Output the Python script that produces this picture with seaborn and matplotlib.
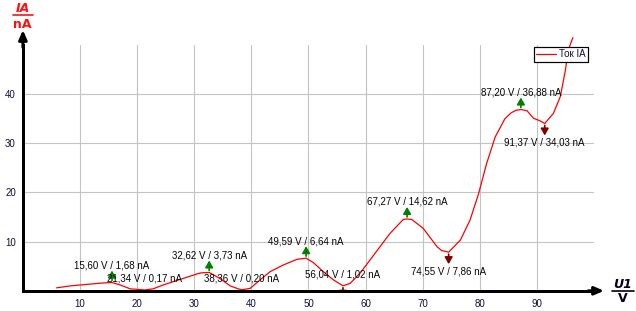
import numpy as np
import pandas as pd
import matplotlib
matplotlib.use("Agg")
import matplotlib.pyplot as plt
from matplotlib.patches import FancyArrowPatch
import seaborn as sns

# ---- data ----
voltage = [5.9, 8.3, 11.2, 14.1, 15.6, 17.0, 18.8, 21.34, 22.8, 24.6, 27.5, 30.4,
           31.2, 32.62, 34.5, 36.3, 37.7, 38.36, 39.8, 41.5, 43.3, 45.6, 48.0,
           49.59, 50.9, 52.6, 54.4, 56.04, 57.3, 59.05, 60.8, 62.55, 64.3, 66.6,
           67.27, 68.1, 70.1, 72.5, 73.3, 74.55, 76.6, 78.3, 79.8, 81.2, 82.7,
           84.4, 85.5, 86.3, 87.20, 88.3, 89.4, 90.5, 91.37, 92.9, 94.1, 95.0,
           95.5, 96.3]
current = [0.6, 1.0, 1.3, 1.6, 1.68, 1.2, 0.4, 0.17, 0.4, 1.2, 2.3, 3.4,
           3.65, 3.73, 2.5, 1.0, 0.4, 0.20, 0.5, 2.2, 3.9, 5.25, 6.4,
           6.64, 5.7, 3.9, 2.2, 1.02, 1.5, 3.6, 6.3, 9.0, 11.7, 14.5,
           14.62, 14.5, 12.7, 9.0, 8.2, 7.86, 10.3, 14.4, 19.8, 25.9, 31.3,
           35.0, 36.2, 36.7, 36.88, 36.6, 35.1, 34.6, 34.03, 36.1, 39.5, 44.9,
           49.0, 51.5]

peak_v = [15.60, 32.62, 49.59, 67.27, 87.20]
peak_i = [1.68, 3.73, 6.64, 14.62, 36.88]
trough_v = [21.34, 38.36, 56.04, 74.55, 91.37]
trough_i = [0.17, 0.20, 1.02, 7.86, 34.03]

x_ticks = [10, 20, 30, 40, 50, 60, 70, 80, 90]
y_ticks = [10, 20, 30, 40]
series_label = "Ток IA"

# ---- figure ----
W, H = 636, 311
DPI = 100
PX = 72.0 / DPI  # points per pixel

sns.set_theme(style="white")
plt.rcParams['font.family'] = ['Liberation Sans', 'DejaVu Sans']

fig = plt.figure(figsize=(W / DPI, H / DPI), dpi=DPI)
ax_l, ax_r, ax_b, ax_t = 22.9, 594.0, 290.8, 45.0
ax = fig.add_axes([ax_l / W, 1 - ax_b / H, (ax_r - ax_l) / W, (ax_b - ax_t) / H])
YMAX = 50.0
unit_per_px = YMAX / (ax_b - ax_t)

df = pd.DataFrame({"U1": voltage, "IA": current})
sns.lineplot(data=df, x="U1", y="IA", color="#ff0000", lw=0.9, ax=ax,
             estimator=None, sort=False, label=series_label, zorder=3)
for ln in ax.lines:
    ln.set_clip_on(False)

ax.set_xlim(0, 100)
ax.set_ylim(0, YMAX)
ax.set_xticks(x_ticks)
ax.set_yticks(y_ticks)
ax.set_xlabel("")
ax.set_ylabel("")
ax.grid(True, color="#c4c4c4", lw=0.8)
ax.set_axisbelow(True)

for s in ["top", "right"]:
    ax.spines[s].set_visible(False)
for s in ["left", "bottom"]:
    ax.spines[s].set_color("black")
    ax.spines[s].set_linewidth(3 * PX)
    ax.spines[s].set_zorder(5)

ax.tick_params(axis="both", direction="out", length=5 * PX, width=1.5 * PX,
               color="black", labelcolor="#10103a", labelsize=7)
ax.tick_params(axis="x", pad=2.5)
ax.tick_params(axis="y", pad=1.5)

# axis arrows
arrow_kw = dict(arrowstyle="-|>,head_length=0.55,head_width=0.24", mutation_scale=10,
                lw=3 * PX, color="black", shrinkA=0, shrinkB=0)
ax.annotate("", xy=((604 - ax_l) / (ax_r - ax_l), 0), xytext=(0.99, 0),
            xycoords="axes fraction", arrowprops=arrow_kw, annotation_clip=False)
ax.annotate("", xy=(0, (ax_b - 30) / (ax_b - ax_t)), xytext=(0, 0.99),
            xycoords="axes fraction", arrowprops=arrow_kw, annotation_clip=False)

# axis titles
label_kw = dict(transform=fig.transFigure, ha="center", va="center",
                fontweight="bold", family=["DejaVu Sans"])
fig.text(22.5 / W, 1 - 9 / H, "IA", color="#ff1010", style="italic", fontsize=9, **label_kw)
fig.text(22.5 / W, 1 - 24 / H, "nA", color="#ff1010", fontsize=9, **label_kw)
fig.add_artist(plt.Line2D([12.5 / W, 32.5 / W], [1 - 14.5 / H, 1 - 14.5 / H],
                          color="#ff1010", lw=1.2, transform=fig.transFigure))
fig.text(623 / W, 1 - 284.5 / H, "U1", color="#000018", style="italic", fontsize=9, **label_kw)
fig.text(623 / W, 1 - 299 / H, "V", color="#000018", fontsize=9, **label_kw)
fig.add_artist(plt.Line2D([612 / W, 633.5 / W], [1 - 290.7 / H, 1 - 290.7 / H],
                          color="#000018", lw=1.2, transform=fig.transFigure))


def fmt(v, i):
    return f"{v:.2f} V / {i:.2f} nA".replace(".", ",")


txt_kw = dict(textcoords="offset points", ha="center", va="center", fontsize=7,
              color="#050505", zorder=6, annotation_clip=False)
head = "-|>,head_length=0.4,head_width=0.23"


def marker_arrow(v, i, direction, color):
    start = i + direction * 2 * unit_per_px
    end = i + direction * 12 * unit_per_px
    p = FancyArrowPatch((v, start), (v, end), arrowstyle=head, mutation_scale=10,
                        lw=1.7 * PX, color=color, shrinkA=0, shrinkB=0, zorder=4)
    ax.add_patch(p)


for v, i in zip(peak_v, peak_i):
    marker_arrow(v, i, +1, "#008000")
    ax.annotate(fmt(v, i), xy=(v, i), xytext=(0, 17 * PX), **txt_kw)

for v, i in zip(trough_v, trough_i):
    marker_arrow(v, i, -1, "#800000")
    if i / unit_per_px > 25:
        ax.annotate(fmt(v, i), xy=(v, i), xytext=(0, -19 * PX), **txt_kw)
    else:
        ax.annotate(fmt(v, i), xy=(v, i), xytext=(0, 11.5 * PX), **txt_kw)

leg = ax.legend(loc="upper right", bbox_to_anchor=(588 / W, 1 - 47 / H),
                bbox_transform=fig.transFigure, borderaxespad=0, fancybox=False,
                frameon=True, edgecolor="black", framealpha=1, fontsize=7,
                borderpad=0.25, handlelength=2.0, handletextpad=0.35)
leg.get_frame().set_linewidth(1.2 * PX)
leg.set_zorder(7)
for t in leg.get_texts():
    t.set_color("#10103a")

fig.savefig("out.png", dpi=DPI)
